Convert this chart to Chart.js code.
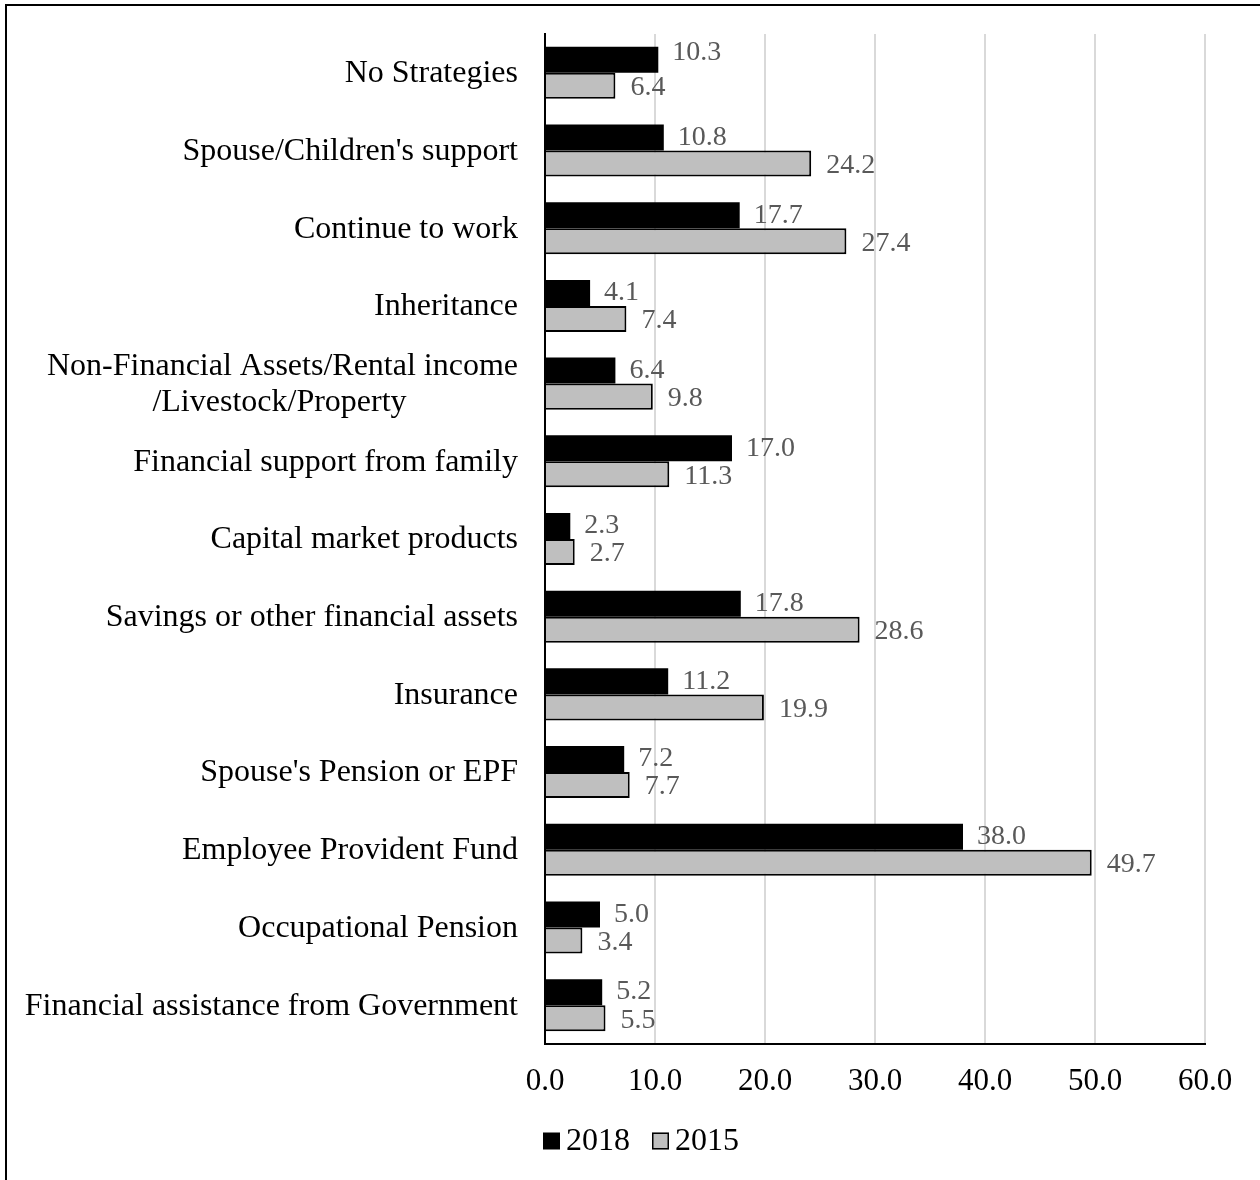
<!DOCTYPE html>
<html>
<head>
<meta charset="utf-8">
<script src="https://cdn.jsdelivr.net/npm/chart.js@4/dist/chart.umd.min.js"></script>
<style>
  html, body { margin: 0; padding: 0; background: #fff; }
  #wrap { position: relative; width: 1260px; height: 1180px; }
</style>
</head>
<body>
<div id="wrap"><canvas id="c" width="1260" height="1180"></canvas></div>
<script>
// Retirement funding strategies, share of respondents (%)
const categories = [
  'No Strategies',
  "Spouse/Children's support",
  'Continue to work',
  'Inheritance',
  ['Non-Financial Assets/Rental income', '/Livestock/Property'],
  'Financial support from family',
  'Capital market products',
  'Savings or other financial assets',
  'Insurance',
  "Spouse's Pension or EPF",
  'Employee Provident Fund',
  'Occupational Pension',
  'Financial assistance from Government'
];
const seriesNames = ['2018', '2015'];
const values2018 = [10.3, 10.8, 17.7, 4.1, 6.4, 17.0, 2.3, 17.8, 11.2, 7.2, 38.0, 5.0, 5.2];
const values2015 = [6.4, 24.2, 27.4, 7.4, 9.8, 11.3, 2.7, 28.6, 19.9, 7.7, 49.7, 3.4, 5.5];
const xTickValues = [0, 10, 20, 30, 40, 50, 60];

const SERIF = "'Liberation Serif', 'Times New Roman', serif";

// white page with a frame along the top and left edges
const pageFrame = {
  id: 'pageFrame',
  beforeDraw(chart) {
    const ctx = chart.ctx;
    ctx.save();
    ctx.fillStyle = '#fff';
    ctx.fillRect(0, 0, chart.width, chart.height);
    ctx.strokeStyle = '#000';
    ctx.lineWidth = 2;
    ctx.beginPath();
    ctx.moveTo(6, chart.height);
    ctx.lineTo(6, 5);
    ctx.lineTo(chart.width, 5);
    ctx.stroke();
    ctx.restore();
  }
};

// category names: right-aligned block, wrapped lines centred inside it
const categoryLabels = {
  id: 'categoryLabels',
  afterDraw(chart) {
    const ctx = chart.ctx;
    const ys = chart.scales.y;
    const right = ys.right - 27;
    const lineH = 36;
    ctx.save();
    ctx.font = '32px ' + SERIF;
    ctx.fillStyle = '#000';
    ctx.textAlign = 'center';
    ctx.textBaseline = 'middle';
    categories.forEach((lab, i) => {
      const lines = Array.isArray(lab) ? lab : [lab];
      const w = Math.max(...lines.map(l => ctx.measureText(l).width));
      const cx = right - w / 2;
      const yc = ys.getPixelForTick(i);
      lines.forEach((l, j) => {
        const dx = j > 0 ? -3 : 0;
        ctx.fillText(l, cx + dx, yc + (j - (lines.length - 1) / 2) * lineH + 1);
      });
    });
    ctx.restore();
  }
};

// value labels at the end of each bar
const valueLabels = {
  id: 'valueLabels',
  afterDatasetsDraw(chart) {
    const ctx = chart.ctx;
    ctx.save();
    ctx.font = '28px ' + SERIF;
    ctx.fillStyle = '#595959';
    ctx.textAlign = 'left';
    ctx.textBaseline = 'middle';
    chart.data.datasets.forEach((ds, di) => {
      const meta = chart.getDatasetMeta(di);
      meta.data.forEach((el, i) => {
        const dx = di === 1 ? 15 : 14;
        const dy = di === 1 ? 2 : (i === 0 ? -7 : 0);
        ctx.fillText(ds.data[i].toFixed(1), el.x + dx, el.y + dy);
      });
    });
    ctx.restore();
  }
};

// series key under the axis
const seriesKey = {
  id: 'seriesKey',
  afterDraw(chart) {
    const ctx = chart.ctx;
    const box = 17, gapText = 6, gapItem = 22, cy = 1141, centerX = 641;
    ctx.save();
    ctx.font = '32px ' + SERIF;
    ctx.textBaseline = 'middle';
    ctx.textAlign = 'left';
    const items = chart.data.datasets.map(ds => ({
      label: ds.label, fill: ds.backgroundColor, stroke: ds.borderColor, bw: ds.borderWidth,
      w: ctx.measureText(ds.label).width
    }));
    const total = items.reduce((s, it) => s + box + gapText + it.w, 0) + gapItem * (items.length - 1);
    let x = centerX - total / 2;
    items.forEach(it => {
      ctx.fillStyle = it.fill;
      ctx.fillRect(x, cy - box / 2, box, box);
      if (it.bw) {
        ctx.strokeStyle = it.stroke;
        ctx.lineWidth = 1.5;
        ctx.strokeRect(x + 0.75, cy - box / 2 + 0.75, box - 1.5, box - 1.5);
      }
      x += box + gapText;
      ctx.fillStyle = '#000';
      ctx.fillText(it.label, x, cy + 1);
      x += it.w + gapItem;
    });
    ctx.restore();
  }
};

new Chart(document.getElementById('c'), {
  type: 'bar',
  data: {
    labels: categories,
    datasets: [
      {
        label: seriesNames[0],
        data: values2018,
        backgroundColor: '#000000',
        borderColor: '#000000',
        borderWidth: 0,
        barPercentage: 1,
        categoryPercentage: 0.67
      },
      {
        label: seriesNames[1],
        data: values2015,
        backgroundColor: '#bfbfbf',
        borderColor: '#000000',
        borderWidth: 2,
        barPercentage: 1,
        categoryPercentage: 0.67
      }
    ]
  },
  options: {
    indexAxis: 'y',
    responsive: false,
    devicePixelRatio: 1,
    animation: false,
    layout: { padding: { top: 34, right: 55, left: 0, bottom: 0 } },
    plugins: {
      legend: { display: false },
      tooltip: { enabled: false }
    },
    scales: {
      x: {
        min: 0,
        max: 60,
        afterBuildTicks: s => { s.ticks = xTickValues.map(v => ({ value: v })); },
        afterFit: s => { s.height = 136; },
        ticks: {
          callback: v => Number(v).toFixed(1),
          color: '#000',
          font: { family: SERIF, size: 31 },
          padding: 19,
          maxRotation: 0
        },
        grid: {
          color: c => (c.tick && c.tick.value === 0) ? 'rgba(0,0,0,0)' : '#d9d9d9',
          lineWidth: 2,
          drawTicks: false
        },
        border: { color: '#000', width: 2 }
      },
      y: {
        afterFit: s => { s.width = 545; },
        ticks: { display: false },
        grid: { display: false, drawTicks: false },
        border: { color: '#000', width: 2 }
      }
    }
  },
  plugins: [pageFrame, categoryLabels, valueLabels, seriesKey]
});
</script>
</body>
</html>
